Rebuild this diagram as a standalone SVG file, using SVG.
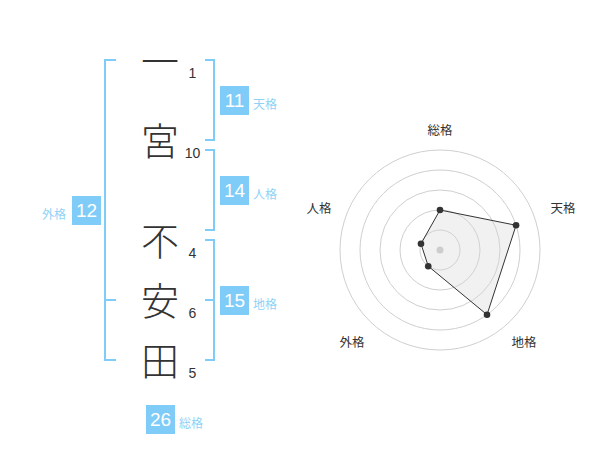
<svg xmlns="http://www.w3.org/2000/svg" width="600" height="470" viewBox="0 0 600 470">
<style>
.ch{font-family:"Noto Sans CJK JP","Noto Sans CJK SC",sans-serif;font-size:38px;font-weight:300;fill:#333;text-anchor:middle}
.num{font-family:"Liberation Sans",Arial,sans-serif;font-size:14px;fill:#333;text-anchor:middle}
.box{fill:#80ccf8}
.bt{font-family:"Liberation Sans",Arial,sans-serif;font-size:19px;fill:#fff;text-anchor:middle}
.lb{font-family:"Noto Sans CJK JP","Noto Sans CJK SC",sans-serif;font-size:12px;fill:#8fd2f7}
.br{fill:none;stroke:#80ccf8;stroke-width:2}
.ring{fill:none;stroke:#cfcfcf;stroke-width:1}
.rl{font-family:"Noto Sans CJK JP","Noto Sans CJK SC",sans-serif;font-size:12.5px;fill:#333;text-anchor:middle}
.pt{fill:#333}
</style>
<rect width="600" height="470" fill="#fff"/>
<g id="connectors">
<path class="br" d="M116,60 H105 V360 H116 M105,300 H116"/>
<path class="br" d="M205,60 H214 V140 H205"/>
<path class="br" d="M205,150 H214 V230 H205"/>
<path class="br" d="M205,240 H214 V360 H205 M205,300 H214"/>
</g>
<g id="chars">
<g id="c1"><text class="ch" x="160" y="75">一</text><text class="num" x="192.5" y="78">1</text></g>
<g id="c2"><text class="ch" x="160" y="155">宮</text><text class="num" x="192.5" y="158">10</text></g>
<g id="c3"><text class="ch" x="160" y="255">不</text><text class="num" x="192.5" y="258">4</text></g>
<g id="c4"><text class="ch" x="160" y="315">安</text><text class="num" x="192.5" y="318">6</text></g>
<g id="c5"><text class="ch" x="160" y="375">田</text><text class="num" x="192.5" y="378">5</text></g>
</g>
<g id="tenkaku"><rect class="box" x="220" y="86" width="29" height="29"/><text class="bt" x="234.5" y="107.3">11</text><text class="lb" x="253" y="108.5">天格</text></g>
<g id="jinkaku"><rect class="box" x="220" y="176" width="29" height="29"/><text class="bt" x="234.5" y="197.3">14</text><text class="lb" x="253" y="198.5">人格</text></g>
<g id="chikaku"><rect class="box" x="220" y="286" width="29" height="29"/><text class="bt" x="234.5" y="307.3">15</text><text class="lb" x="253" y="308.5">地格</text></g>
<g id="gaikaku"><rect class="box" x="72" y="196" width="29" height="29"/><text class="bt" x="86.5" y="217.3">12</text><text class="lb" x="66" y="218.5" text-anchor="end">外格</text></g>
<g id="soukaku"><rect class="box" x="146" y="405" width="29" height="29"/><text class="bt" x="160.5" y="426.3">26</text><text class="lb" x="179" y="427.5">総格</text></g>
<g id="radar">
<circle class="ring" cx="440" cy="250" r="20"/>
<circle class="ring" cx="440" cy="250" r="40"/>
<circle class="ring" cx="440" cy="250" r="60"/>
<circle class="ring" cx="440" cy="250" r="80"/>
<circle class="ring" cx="440" cy="250" r="100"/>
<circle cx="440" cy="250" r="3.5" fill="#c8c8c8"/>
<polygon points="440,210 516.08,225.28 487.02,314.72 428.24,266.18 420.98,243.82" fill="#d8d8d8" fill-opacity="0.35" stroke="#333" stroke-width="1"/>
<circle class="pt" cx="440" cy="210" r="3.3"/>
<circle class="pt" cx="516.08" cy="225.28" r="3.3"/>
<circle class="pt" cx="487.02" cy="314.72" r="3.3"/>
<circle class="pt" cx="428.24" cy="266.18" r="3.3"/>
<circle class="pt" cx="420.98" cy="243.82" r="3.3"/>
<text class="rl" x="440" y="134.5">総格</text>
<text class="rl" x="563" y="212.5">天格</text>
<text class="rl" x="524" y="346.5">地格</text>
<text class="rl" x="352" y="346.5">外格</text>
<text class="rl" x="319" y="212.5">人格</text>
</g>
</svg>
